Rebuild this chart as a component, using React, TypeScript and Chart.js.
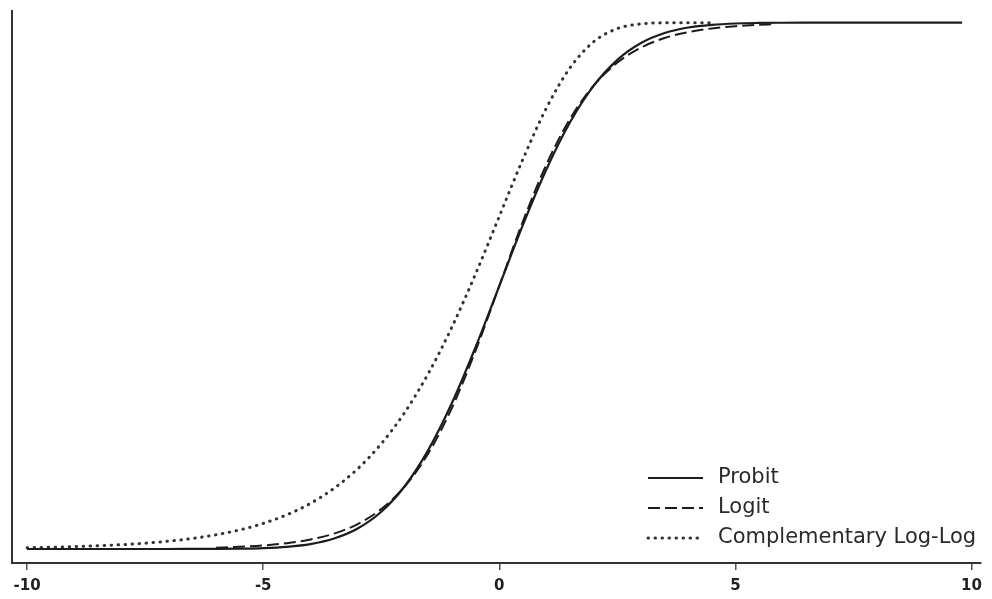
import { useEffect, useRef } from 'react';
import { Chart, registerables } from 'chart.js';

Chart.register(...registerables);

// Axis tick labels
const xTicks = [-10, -5, 0, 5, 10];

// Series labels
const seriesLabels = ['Probit', 'Logit', 'Complementary Log-Log'];

// Probit (solid)
const probitX = [-10, -9.5, -9, -8.5, -8, -7.5, -7, -6.5, -6, -5.5, -5, -4.5, -4, -3.5, -3, -2.5, -2, -1.5, -1, -0.5, 0, 0.5, 1, 1.5, 2, 2.5, 3, 3.5, 4, 4.5, 5, 5.5, 6, 6.5, 7, 7.5, 8, 8.5, 9, 9.5, 9.8];
const probitY = [0, 0, 0, 0, 0, 0, 0, 0.0001, 0.0002, 0.0006, 0.0016, 0.0041, 0.0093, 0.0198, 0.0388, 0.0707, 0.1197, 0.1888, 0.2782, 0.3843, 0.5, 0.6157, 0.7218, 0.8112, 0.8803, 0.9293, 0.9612, 0.9802, 0.9907, 0.9959, 0.9984, 0.9994, 0.9998, 1, 1, 1, 1, 1, 1, 1, 1];

// Logit (dashed)
const logitX = [-6, -5.5, -5, -4.5, -4, -3.5, -3, -2.5, -2, -1.5, -1, -0.5, 0, 0.5, 1, 1.5, 2, 2.5, 3, 3.5, 4, 4.5, 5, 5.5, 5.8];
const logitY = [0.0025, 0.0041, 0.0067, 0.011, 0.018, 0.0293, 0.0474, 0.0759, 0.1192, 0.1824, 0.2689, 0.3775, 0.5, 0.6225, 0.7311, 0.8176, 0.8808, 0.9241, 0.9526, 0.9707, 0.982, 0.989, 0.9933, 0.9959, 0.997];

// Complementary log-log (dotted)
const cloglogX = [-10, -9.5, -9, -8.5, -8, -7.5, -7, -6.5, -6, -5.5, -5, -4.5, -4, -3.5, -3, -2.5, -2, -1.5, -1, -0.5, 0, 0.5, 1, 1.5, 2, 2.5, 3, 3.5, 4, 4.5];
const cloglogY = [0.0025, 0.0033, 0.0045, 0.0061, 0.0082, 0.011, 0.0149, 0.02, 0.027, 0.0362, 0.0486, 0.065, 0.0867, 0.1153, 0.1524, 0.2, 0.26, 0.3341, 0.4224, 0.5233, 0.6321, 0.7407, 0.8383, 0.9145, 0.9638, 0.9887, 0.9976, 0.9997, 1, 1];

const toPoints = (xs: number[], ys: number[]) => xs.map((x, i) => ({ x, y: ys[i] }));

const axisAndLegend = {
  id: 'axisAndLegend',
  afterDraw(chart: any) {
    const { ctx, chartArea } = chart;
    ctx.save();
    // y axis line
    ctx.strokeStyle = '#333';
    ctx.lineWidth = 2;
    ctx.setLineDash([]);
    ctx.beginPath();
    ctx.moveTo(chartArea.left, chartArea.top);
    ctx.lineTo(chartArea.left, chartArea.bottom + 1);
    ctx.stroke();

    // legend
    const x0 = 648;
    const x1 = 703;
    const tx = 718;
    const rows = [478, 508, 538];
    ctx.font = '21px "DejaVu Sans"';
    ctx.textBaseline = 'middle';
    ctx.textAlign = 'left';
    chart.data.datasets.forEach((ds: any, i: number) => {
      const y = rows[i];
      ctx.strokeStyle = ds.borderColor;
      ctx.lineWidth = ds.borderWidth;
      ctx.lineCap = ds.borderCapStyle || 'butt';
      ctx.setLineDash(ds.borderDash || []);
      ctx.beginPath();
      ctx.moveTo(x0, y);
      ctx.lineTo(x1, y);
      ctx.stroke();
      ctx.setLineDash([]);
      ctx.fillStyle = '#2a2a2a';
      ctx.fillText(ds.label, tx, y);
    });
    ctx.restore();
  },
};

export default function App() {
  const ref = useRef<HTMLCanvasElement>(null);
  useEffect(() => {
    if (!ref.current) return;
    const chart = new Chart(ref.current, {
      type: 'line',
      data: {
        datasets: [
          {
            label: seriesLabels[0],
            data: toPoints(probitX, probitY),
            borderColor: '#1c1c1c',
            borderWidth: 2.2,
            pointRadius: 0,
            cubicInterpolationMode: 'monotone',
            fill: false,
          },
          {
            label: seriesLabels[1],
            data: toPoints(logitX, logitY),
            borderColor: '#1c1c1c',
            borderWidth: 2,
            borderDash: [12, 5],
            pointRadius: 0,
            cubicInterpolationMode: 'monotone',
            fill: false,
          },
          {
            label: seriesLabels[2],
            data: toPoints(cloglogX, cloglogY),
            borderColor: '#333',
            borderWidth: 3,
            borderDash: [0.5, 6.5],
            borderCapStyle: 'round',
            pointRadius: 0,
            cubicInterpolationMode: 'monotone',
            fill: false,
          },
        ] as any,
      },
      options: {
        animation: false,
        responsive: true,
        maintainAspectRatio: false,
        layout: { padding: { top: 10, left: 12, right: 11, bottom: 0 } },
        plugins: { legend: { display: false }, tooltip: { enabled: false } },
        scales: {
          x: {
            type: 'linear',
            min: -10.32,
            max: 10.2,
            afterBuildTicks: (s: any) => {
              s.ticks = xTicks.map((v) => ({ value: v }));
            },
            afterFit: (s: any) => {
              s.height = 36;
            },
            grid: { drawOnChartArea: false, drawTicks: true, tickLength: 7, color: '#555', lineWidth: 1.5 },
            border: { display: true, color: '#333', width: 2 },
            ticks: {
              padding: 7,
              color: '#222',
              maxRotation: 0,
              autoSkip: false,
              font: { family: 'DejaVu Sans', size: 15, weight: 'bold' },
            },
          },
          y: { display: false, min: -0.0266, max: 1.024 },
        },
      } as any,
      plugins: [axisAndLegend],
    });
    return () => chart.destroy();
  }, []);
  return (
    <div style={{ position: 'absolute', left: 0, top: 0, width: 992, height: 599, background: '#fff' }}>
      <canvas ref={ref} />
    </div>
  );
}
